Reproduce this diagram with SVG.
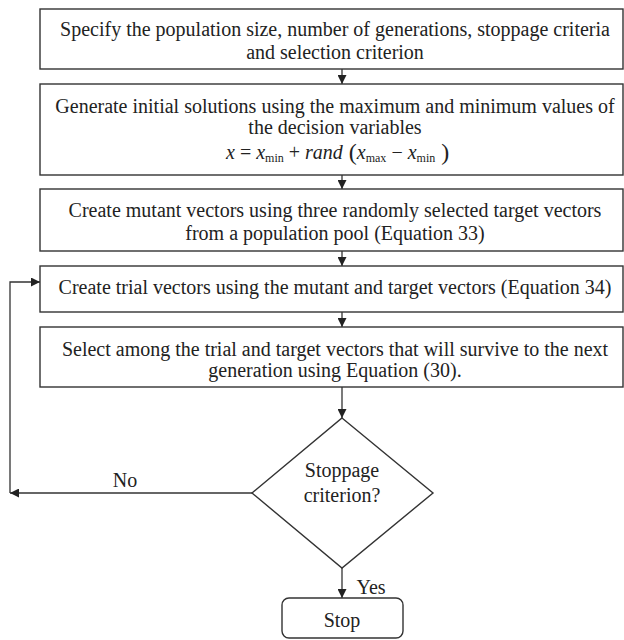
<svg xmlns="http://www.w3.org/2000/svg" width="624" height="640" viewBox="0 0 624 640">
<defs>
<marker id="ah" viewBox="0 0 10 10" refX="10" refY="5" markerWidth="9" markerHeight="9" markerUnits="userSpaceOnUse" orient="auto">
<path d="M0,0 L10,5 L0,10 z" fill="#222"/>
</marker>
<style>
.box{fill:#fff;stroke:#333;stroke-width:1.4}
.t{font-family:"Liberation Serif","Times New Roman",serif;font-size:20px;fill:#222;text-anchor:middle}
.c{fill:none;stroke:#333;stroke-width:1.3}
.m{font-family:"Liberation Serif","Times New Roman",serif;fill:#222}
</style>
</defs>
<rect width="624" height="640" fill="#fff"/>
<g id="connectors">
<line class="c" x1="342" y1="69" x2="342" y2="84" marker-end="url(#ah)"/>
<line class="c" x1="342" y1="175" x2="342" y2="189" marker-end="url(#ah)"/>
<line class="c" x1="342" y1="251" x2="342" y2="266" marker-end="url(#ah)"/>
<line class="c" x1="342" y1="312" x2="342" y2="327" marker-end="url(#ah)"/>
<line class="c" x1="342" y1="387" x2="342" y2="418" marker-end="url(#ah)"/>
<line class="c" x1="342" y1="568" x2="342" y2="598" marker-end="url(#ah)"/>
<line class="c" x1="252" y1="493" x2="10" y2="493" marker-end="url(#ah)"/>
<polyline class="c" points="10,493 10,282 40,282" marker-end="url(#ah)"/>
<text class="t" x="125" y="487">No</text>
<text class="t" x="371" y="594">Yes</text>
</g>
<g id="n1">
<rect class="box" x="40" y="9" width="583" height="60"/>
<text class="t" x="335" y="36">Specify the population size, number of generations, stoppage criteria</text>
<text class="t" x="335" y="59">and selection criterion</text>
</g>
<g id="n2">
<rect class="box" x="40" y="84" width="583" height="91"/>
<text class="t" x="335" y="113">Generate initial solutions using the maximum and minimum values of</text>
<text class="t" x="335" y="134">the decision variables</text>
<text class="m" x="226" y="159" font-size="20"><tspan font-style="italic">x</tspan> = <tspan font-style="italic">x</tspan><tspan font-size="12" dy="3">min</tspan><tspan dy="-3"> + </tspan><tspan font-style="italic">rand</tspan><tspan font-size="24" dy="1"> (</tspan><tspan font-style="italic" dy="-1">x</tspan><tspan font-size="12" dy="3">max</tspan><tspan dy="-3"> − </tspan><tspan font-style="italic">x</tspan><tspan font-size="12" dy="3">min</tspan><tspan font-size="24" dy="-2"> )</tspan></text>
</g>
<g id="n3">
<rect class="box" x="40" y="189" width="583" height="62"/>
<text class="t" x="335" y="217">Create mutant vectors using three randomly selected target vectors</text>
<text class="t" x="335" y="240">from a population pool (Equation 33)</text>
</g>
<g id="n4">
<rect class="box" x="40" y="266" width="583" height="46"/>
<text class="t" x="335" y="294">Create trial vectors using the mutant and target vectors (Equation 34)</text>
</g>
<g id="n5">
<rect class="box" x="40" y="327" width="583" height="60"/>
<text class="t" x="335" y="356">Select among the trial and target vectors that will survive to the next</text>
<text class="t" x="335" y="377">generation using Equation (30).</text>
</g>
<g id="n6">
<polygon class="box" points="342,418 433,493 342,568 252,493"/>
<text class="t" x="342" y="477">Stoppage</text>
<text class="t" x="342" y="502">criterion?</text>
</g>
<g id="n7">
<rect class="box" x="282" y="598" width="121" height="40" rx="7"/>
<text class="t" x="342" y="627">Stop</text>
</g>
</svg>
